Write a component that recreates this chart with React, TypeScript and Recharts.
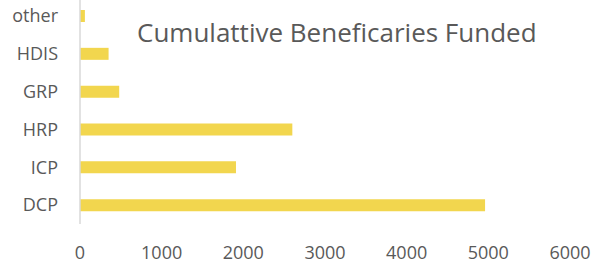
import React from "react";
import { BarChart, Bar, XAxis, YAxis } from "recharts";

const categories = ["other", "HDIS", "GRP", "HRP", "ICP", "DCP"];
const beneficiaries = [60, 350, 480, 2600, 1910, 4960];
const xTicks = [0, 1000, 2000, 3000, 4000, 5000, 6000];

const data = categories.map((name, i) => ({ name, value: beneficiaries[i] }));

const FONT = "'Open Sans', sans-serif";
const GREY = "#595959";

export default function App() {
  return (
    <div style={{ position: "absolute", left: 0, top: 0, width: 594, height: 266, background: "#fff" }}>
      <BarChart
        width={594}
        height={266}
        data={data}
        layout="vertical"
        margin={{ top: -3, right: 24, bottom: 12, left: 0 }}
      >
        <XAxis
          type="number"
          domain={[0, 6000]}
          ticks={xTicks}
          axisLine={false}
          tickLine={false}
          tickSize={0}
          tickMargin={22}
          height={30}
          interval={0}
          tick={{ fill: GREY, fontSize: 18, fontFamily: FONT }}
        />
        <YAxis
          type="category"
          dataKey="name"
          width={80}
          axisLine={{ stroke: "#d9d9d9", strokeWidth: 1.5 }}
          tickLine={false}
          tickSize={0}
          tickMargin={22}
          interval={0}
          tick={{ fill: GREY, fontSize: 18, fontFamily: FONT }}
        />
        <Bar dataKey="value" fill="#f2d64e" barSize={12} isAnimationActive={false} />
      </BarChart>
      <div
        style={{
          position: "absolute",
          left: 137,
          top: 15,
          fontFamily: FONT,
          fontSize: 26,
          color: GREY,
          whiteSpace: "nowrap",
          lineHeight: "34px",
        }}
      >
        Cumulattive Beneficaries Funded
      </div>
    </div>
  );
}
